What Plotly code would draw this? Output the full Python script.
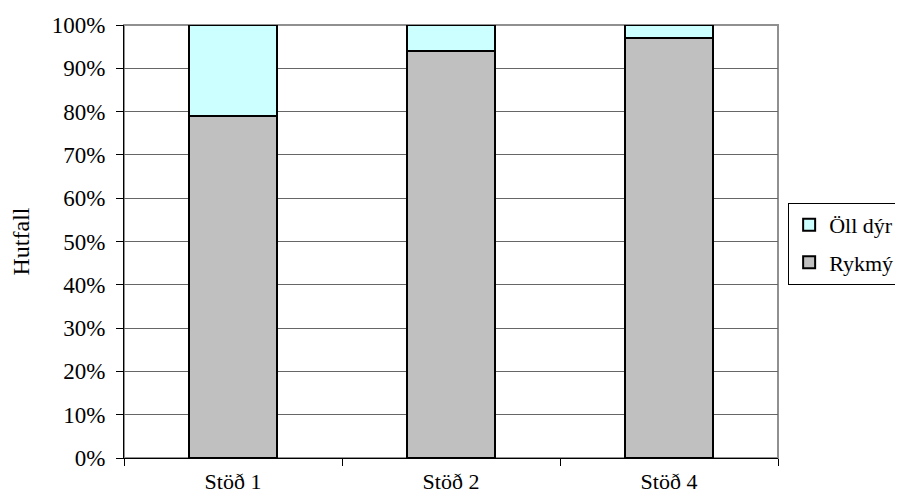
import plotly.graph_objects as go

categories = ["Stöð 1", "Stöð 2", "Stöð 4"]
rykmy = [0.79, 0.94, 0.97]
oll_dyr = [0.21, 0.06, 0.03]
y_ticks = [i / 10 for i in range(11)]
y_tick_labels = [f"{i*10}%" for i in range(11)]

FONT = "Liberation Serif"

fig = go.Figure()
fig.add_trace(go.Bar(name="Rykmý", x=categories, y=rykmy, legendgroup="rykmy", legendrank=2,
                     marker=dict(color="#C0C0C0", line=dict(color="black", width=2))))
fig.add_trace(go.Bar(name="Öll dýr", x=categories, y=oll_dyr, legendgroup="oll", legendrank=1,
                     marker=dict(color="#CCFFFF", line=dict(color="black", width=2))))

# plot area: 654 x 433 px
fig.update_layout(
    barmode="stack",
    bargap=0.596,
    width=887, height=488,
    margin=dict(l=116, r=117, t=17, b=38, autoexpand=False),
    paper_bgcolor="white", plot_bgcolor="white",
    font=dict(family=FONT, size=22, color="black"),
    legend=dict(traceorder="grouped", x=1.0155, y=0.589, xanchor="left", yanchor="top",
                bordercolor="black", borderwidth=1, font=dict(size=22),
                itemwidth=30, tracegroupgap=6),
    showlegend=True,
)
fig.update_xaxes(type="category", tickson="boundaries", ticks="outside", ticklen=7,
                 tickcolor="black", showline=True, linecolor="black", linewidth=1,
                 ticklabelstandoff=4, showgrid=False, automargin=False,
                 tickfont=dict(size=22))
fig.update_yaxes(range=[0, 1], tickvals=y_ticks, ticktext=y_tick_labels,
                 ticks="outside", ticklen=7, tickcolor="black",
                 showline=True, linecolor="black", linewidth=1,
                 showgrid=True, gridcolor="#666666", gridwidth=1,
                 ticklabelstandoff=6, automargin=False, tickfont=dict(size=23),
                 title=dict(text="Hutfall", font=dict(size=24), standoff=18),
                 zeroline=False)
fig.add_shape(type="rect", xref="paper", yref="paper", x0=0, x1=1, y0=0, y1=1,
              line=dict(color="#909090", width=2), layer="below")
fig.write_html("out.html")
